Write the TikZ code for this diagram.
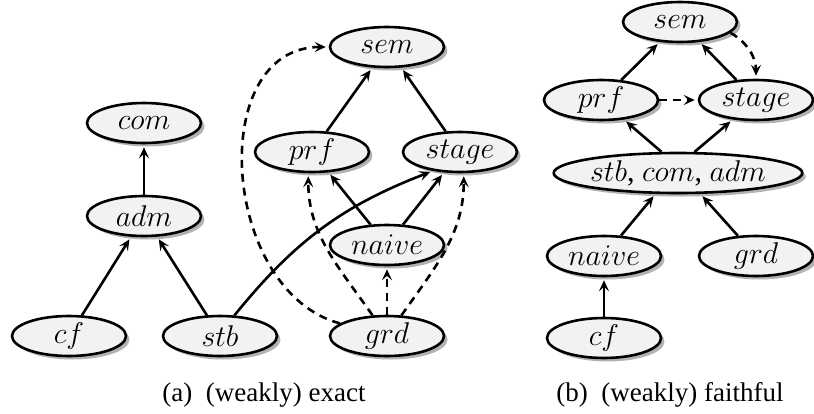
\RequirePackage{fix-cm}
\documentclass[tikz,border=0pt]{standalone}
\usepackage{fontspec}
\setmainfont{Liberation Serif}
\newfontfamily\capfont{Liberation Serif}
\usetikzlibrary{shapes.geometric,arrows.meta,shadows}
\tikzset{
  st/.style={ellipse, draw=black, line width=2.6pt, fill=black!5,
    minimum width=114pt, minimum height=40pt, inner sep=0pt,
    font=\fontsize{30}{32}\selectfont,
    drop shadow={shadow xshift=3.5pt, shadow yshift=-3.5pt, fill=black!30, opacity=1}},
  arr/.style={-{Stealth[length=11pt,width=10pt,inset=4.5pt]}, line width=2.6pt, shorten >=3pt},
  darr/.style={arr, dash pattern=on 8pt off 6pt},
  captext/.style={font=\capfont\fontsize{27}{30}\selectfont}
}
\begin{document}
\begin{tikzpicture}[x=1pt,y=1pt]
\useasboundingbox (0,0) rectangle (814,-413);
% panel (a)
\node[st] (com) at (144,-123) {$com$};
\node[st] (adm) at (144,-216) {$adm$};
\node[st] (cf) at (69,-336) {$cf$};
\node[st] (stb) at (220,-336) {$stb$};
\node[st] (sem) at (387,-47) {$sem$};
\node[st] (prf) at (312,-152) {$prf$};
\node[st] (stage) at (460,-152) {$stage$};
\node[st] (naive) at (387,-245) {$naive$};
\node[st] (grd) at (387,-336) {$grd$};
\draw[arr] (adm) -- (com);
\draw[arr] (cf) -- (adm);
\draw[arr] (stb) -- (adm);
\draw[arr] (prf) -- (sem);
\draw[arr] (stage) -- (sem);
\draw[arr] (naive) -- (prf);
\draw[arr] (naive) -- (stage);
\draw[arr] (stb.55) to[bend left=15] (stage.-145);
\draw[darr] (grd) -- (naive);
\draw[darr] (grd.125) to[out=125,in=-90] (prf.-100);
\draw[darr] (grd.55) to[out=55,in=-90] (stage.-80);
\draw[darr] (grd) to[out=165,in=180,looseness=1.14] (sem);
\node[captext] (capa) at (264,-395) {(a)\enspace(weakly) exact};
% panel (b)
\node[st] (sem2) at (680,-22) {$sem$};
\node[st] (prf2) at (601,-100) {$prf$};
\node[st] (stage2) at (756,-100) {$stage$};
\node[st] (sca) at (678,-173) {$stb$, $com$, $adm$};
\node[st] (naive2) at (604,-256) {$naive$};
\node[st] (grd2) at (756,-256) {$grd$};
\node[st] (cf2) at (604,-338) {$cf$};
\draw[arr] (prf2) -- (sem2);
\draw[arr] (stage2) -- (sem2);
\draw[darr] (prf2) -- (stage2);
\draw[darr] (sem2.-12) to[out=-30,in=90] (stage2);
\draw[arr] (sca.128) -- (prf2);
\draw[arr] (sca.52) -- (stage2);
\draw[arr] (naive2) -- (sca.-137);
\draw[arr] (grd2) -- (sca.-43);
\draw[arr] (cf2) -- (naive2);
\node[captext] (capb) at (670,-395) {(b)\enspace(weakly) faithful};
\end{tikzpicture}
\end{document}
